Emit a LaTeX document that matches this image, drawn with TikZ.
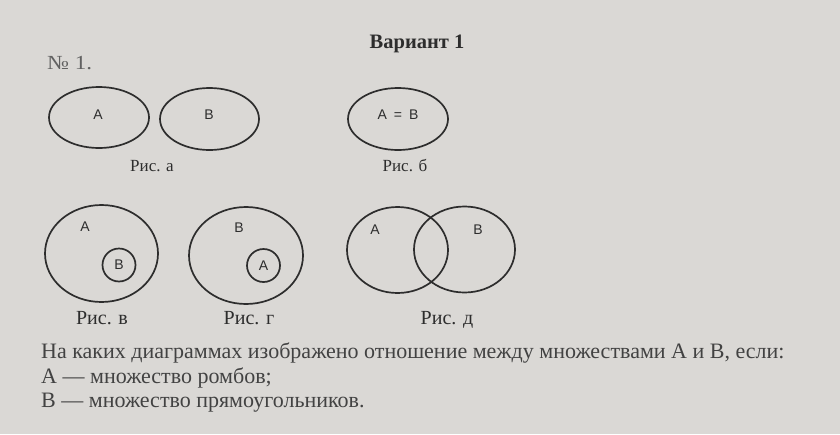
\documentclass[tikz,border=0pt]{standalone}
\usepackage{graphicx}
\usepackage{fontspec}
\setmainfont{Liberation Serif}
\newfontfamily\sansf{Liberation Sans}
\definecolor{paper}{RGB}{218,216,213}
\definecolor{ink}{RGB}{45,45,45}
\begin{document}
\begin{tikzpicture}[x=1pt,y=-1pt,
  setline/.style={draw=ink,line width=1.7pt},
  lbl/.style={text=ink,font=\sansf\fontsize{14}{14}\selectfont,inner sep=0pt},
  figcap/.style={text=ink,font=\fontsize{17}{17}\selectfont,inner sep=0pt},
  figcapbig/.style={text=ink,font=\fontsize{20}{20}\selectfont,inner sep=0pt},
  txt/.style={text=ink!90,font=\fontsize{22}{22}\selectfont,inner sep=0pt,anchor=base west}]
\fill[paper] (0,0) rectangle (840,434);
\useasboundingbox (0,0) rectangle (840,434);
% title
\node[text=ink,font=\bfseries\fontsize{20.5}{20.5}\selectfont,inner sep=0pt] (title) at (417,44) {Вариант 1};
\node[text=ink!75,font=\fontsize{20}{20}\selectfont,inner sep=0pt,anchor=west] (num) at (47,63) {\scalebox{1.15}[1]{№ 1.}};
% Рис. а
\draw[setline] (99,117.5) ellipse [x radius=50, y radius=30.5];
\draw[setline] (209.5,119) ellipse [x radius=49.5, y radius=31];
\node[lbl] (a1) at (98,115) {A};
\node[lbl] (b1) at (209,115) {B};
\node[figcap] (ca) at (152,166) {Рис. а};
% Рис. б
\draw[setline] (398,119) ellipse [x radius=50, y radius=31];
\node[lbl] (ab) at (398,115) {A\enspace=\enspace B};
\node[figcap] (cb) at (405,166) {Рис. б};
% Рис. в
\draw[setline] (101.5,253.5) ellipse [x radius=56.5, y radius=48.5];
\draw[setline] (119,265) circle [radius=16.5];
\node[lbl] (a3) at (85,227) {A};
\node[lbl] (b3) at (119,265) {B};
\node[figcapbig] (cv) at (102,318) {Рис. в};
% Рис. г
\draw[setline] (246,255.5) ellipse [x radius=57, y radius=48.5];
\draw[setline] (263.5,265.5) circle [radius=16.5];
\node[lbl] (b4) at (239,228) {B};
\node[lbl] (a4) at (263.5,265.5) {A};
\node[figcapbig] (cg) at (249,318) {Рис. г};
% Рис. д
\draw[setline] (397.5,250) ellipse [x radius=50.5, y radius=43];
\draw[setline] (464.5,249.5) ellipse [x radius=50.5, y radius=43];
\node[lbl] (a5) at (375,230) {A};
\node[lbl] (b5) at (478,230) {B};
\node[figcapbig] (cd) at (447,320) {Рис. д};
% question
\node[txt] (q1) at (41,358) {На каких диаграммах изображено отношение между множествами А и В, если:};
\node[txt] (q2) at (41,383) {А — множество ромбов;};
\node[txt] (q3) at (41,407) {В — множество прямоугольников.};
\end{tikzpicture}
\end{document}
